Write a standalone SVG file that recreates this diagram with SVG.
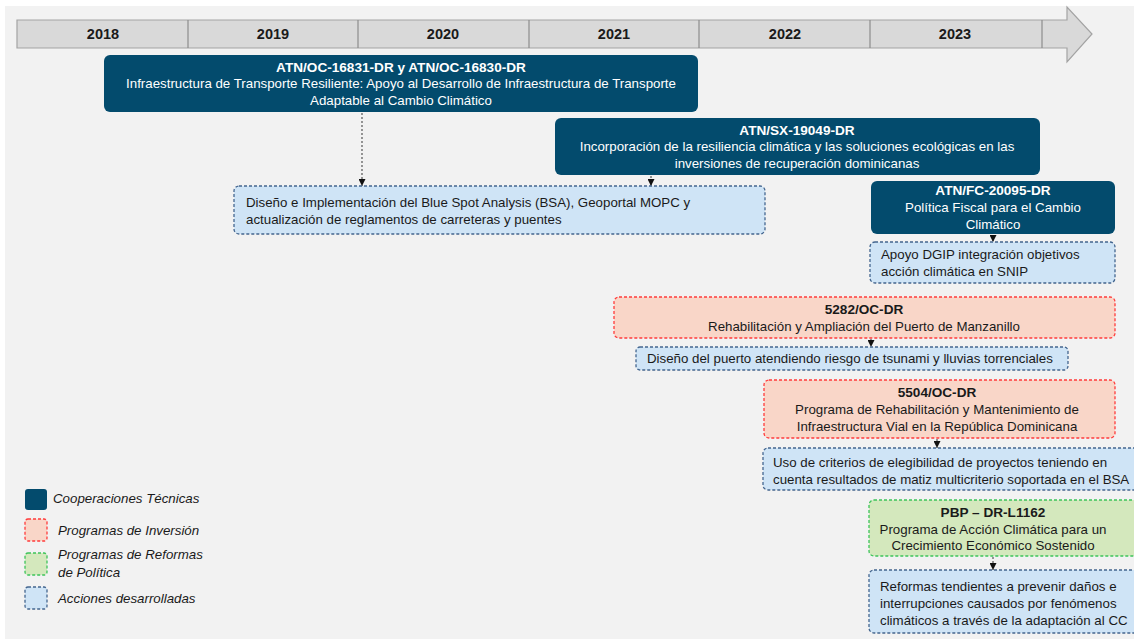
<svg xmlns="http://www.w3.org/2000/svg" width="1134" height="639" viewBox="0 0 1134 639">
<style>
text{font-family:"Liberation Sans",Arial,sans-serif;font-size:13.3px;fill:#1a1a1a}
.yr{font-weight:bold;font-size:14.5px;text-anchor:middle}
.c{text-anchor:middle}
.w{fill:#ffffff}
.b{font-weight:bold;font-size:13.6px}
.lg{font-style:italic;font-size:13.3px}
.dark{fill:#034b6d}
.red{fill:#f9d6c8;stroke:#ff3b3b;stroke-width:1.3;stroke-dasharray:3 2}
.grn{fill:#d4e8bd;stroke:#3cc45a;stroke-width:1.3;stroke-dasharray:3 2}
.blu{fill:#cfe4f6;stroke:#44668f;stroke-width:1.3;stroke-dasharray:3 2}
.con{stroke:#555;stroke-width:1.2;stroke-dasharray:2 2;fill:none;marker-end:url(#ah)}
</style>
<defs>
<marker id="ah" viewBox="0 0 10 10" refX="10" refY="5" markerWidth="7" markerHeight="7" markerUnits="userSpaceOnUse" orient="auto">
<path d="M0,0 L10,5 L0,10 z" fill="#111"/>
</marker>
</defs>
<rect x="0" y="0" width="1134" height="639" fill="#ffffff"/>
<rect x="5" y="6" width="1129" height="633" fill="#f2f2f2"/>
<g id="timeline">
<path d="M17,20 L1067,20 L1067,7 L1092,34 L1067,62 L1067,48 L17,48 Z" fill="#d9d9d9" stroke="#a3a3a3" stroke-width="1.2"/>
<g stroke="#8c8c8c" stroke-width="1.2">
<line x1="188" y1="20" x2="188" y2="48"/>
<line x1="358" y1="20" x2="358" y2="48"/>
<line x1="529" y1="20" x2="529" y2="48"/>
<line x1="699" y1="20" x2="699" y2="48"/>
<line x1="870" y1="20" x2="870" y2="48"/>
<line x1="1042" y1="20" x2="1042" y2="48"/>
</g>
<text class="yr" x="103" y="39">2018</text>
<text class="yr" x="273" y="39">2019</text>
<text class="yr" x="443" y="39">2020</text>
<text class="yr" x="614" y="39">2021</text>
<text class="yr" x="785" y="39">2022</text>
<text class="yr" x="955" y="39">2023</text>
</g>
<g id="connectors">
<line class="con" x1="362" y1="113" x2="362" y2="186"/>
<line class="con" x1="651" y1="176" x2="651" y2="186"/>
<line class="con" x1="993" y1="235" x2="993" y2="242"/>
<line class="con" x1="871" y1="339" x2="871" y2="347"/>
<line class="con" x1="937" y1="439" x2="937" y2="448"/>
<line class="con" x1="993" y1="557" x2="993" y2="570"/>
</g>
<g id="tc1">
<rect class="dark" x="104" y="55" width="594" height="57" rx="6"/>
<text class="c w b" x="401" y="72">ATN/OC-16831-DR y ATN/OC-16830-DR</text>
<text class="c w" x="401" y="88">Infraestructura de Transporte Resiliente: Apoyo al Desarrollo de Infraestructura de Transporte</text>
<text class="c w" x="401" y="105">Adaptable al Cambio Climático</text>
</g>
<g id="tc2">
<rect class="dark" x="555" y="118" width="485" height="57" rx="6"/>
<text class="c w b" x="797" y="135">ATN/SX-19049-DR</text>
<text class="c w" x="797" y="151">Incorporación de la resiliencia climática y las soluciones ecológicas en las</text>
<text class="c w" x="797" y="168">inversiones de recuperación dominicanas</text>
</g>
<g id="act1">
<rect class="blu" x="234" y="186" width="531" height="48" rx="5"/>
<text x="246" y="207">Diseño e Implementación del Blue Spot Analysis (BSA), Geoportal MOPC y</text>
<text x="246" y="224">actualización de reglamentos de carreteras y puentes</text>
</g>
<g id="tc3">
<rect class="dark" x="871" y="181" width="244" height="53" rx="6"/>
<text class="c w b" x="993" y="195">ATN/FC-20095-DR</text>
<text class="c w" x="993" y="212">Política Fiscal para el Cambio</text>
<text class="c w" x="993" y="229">Climático</text>
</g>
<g id="act2">
<rect class="blu" x="870" y="242" width="245" height="41" rx="5"/>
<text x="881" y="259">Apoyo DGIP integración objetivos</text>
<text x="881" y="276">acción climática en SNIP</text>
</g>
<g id="inv1">
<rect class="red" x="614" y="297" width="501" height="41" rx="5"/>
<text class="c b" x="864" y="314">5282/OC-DR</text>
<text class="c" x="864" y="331">Rehabilitación y Ampliación del Puerto de Manzanillo</text>
</g>
<g id="act3">
<rect class="blu" x="636" y="347" width="432" height="23" rx="4"/>
<text x="647" y="363">Diseño del puerto atendiendo riesgo de tsunami y lluvias torrenciales</text>
</g>
<g id="inv2">
<rect class="red" x="764" y="380" width="351" height="58" rx="5"/>
<text class="c b" x="937" y="397">5504/OC-DR</text>
<text class="c" x="937" y="414">Programa de Rehabilitación y Mantenimiento de</text>
<text class="c" x="937" y="431">Infraestructura Vial en la República Dominicana</text>
</g>
<g id="act4">
<rect class="blu" x="763" y="448" width="380" height="42" rx="5"/>
<text x="773" y="467">Uso de criterios de elegibilidad de proyectos teniendo en</text>
<text x="773" y="484">cuenta resultados de matiz multicriterio soportada en el BSA</text>
</g>
<g id="pol1">
<rect class="grn" x="869" y="500" width="274" height="56" rx="5"/>
<text class="c b" x="993" y="517">PBP – DR-L1162</text>
<text class="c" x="993" y="534">Programa de Acción Climática para un</text>
<text class="c" x="993" y="550">Crecimiento Económico Sostenido</text>
</g>
<g id="act5">
<rect class="blu" x="869" y="570" width="274" height="63" rx="5"/>
<text x="880" y="591">Reformas tendientes a prevenir daños e</text>
<text x="880" y="608">interrupciones causados por fenómenos</text>
<text x="880" y="625">climáticos a través de la adaptación al CC</text>
</g>
<g id="legend">
<rect class="dark" x="25" y="489" width="22" height="21" rx="3"/>
<text class="lg" x="53" y="503">Cooperaciones Técnicas</text>
<rect class="red" x="25" y="519" width="22" height="22" rx="3"/>
<text class="lg" x="58" y="535">Programas de Inversión</text>
<rect class="grn" x="25" y="553" width="22" height="22" rx="3"/>
<text class="lg" x="58" y="559">Programas de Reformas</text>
<text class="lg" x="58" y="577">de Política</text>
<rect class="blu" x="25" y="587" width="22" height="22" rx="3"/>
<text class="lg" x="58" y="603">Acciones desarrolladas</text>
</g>
</svg>
